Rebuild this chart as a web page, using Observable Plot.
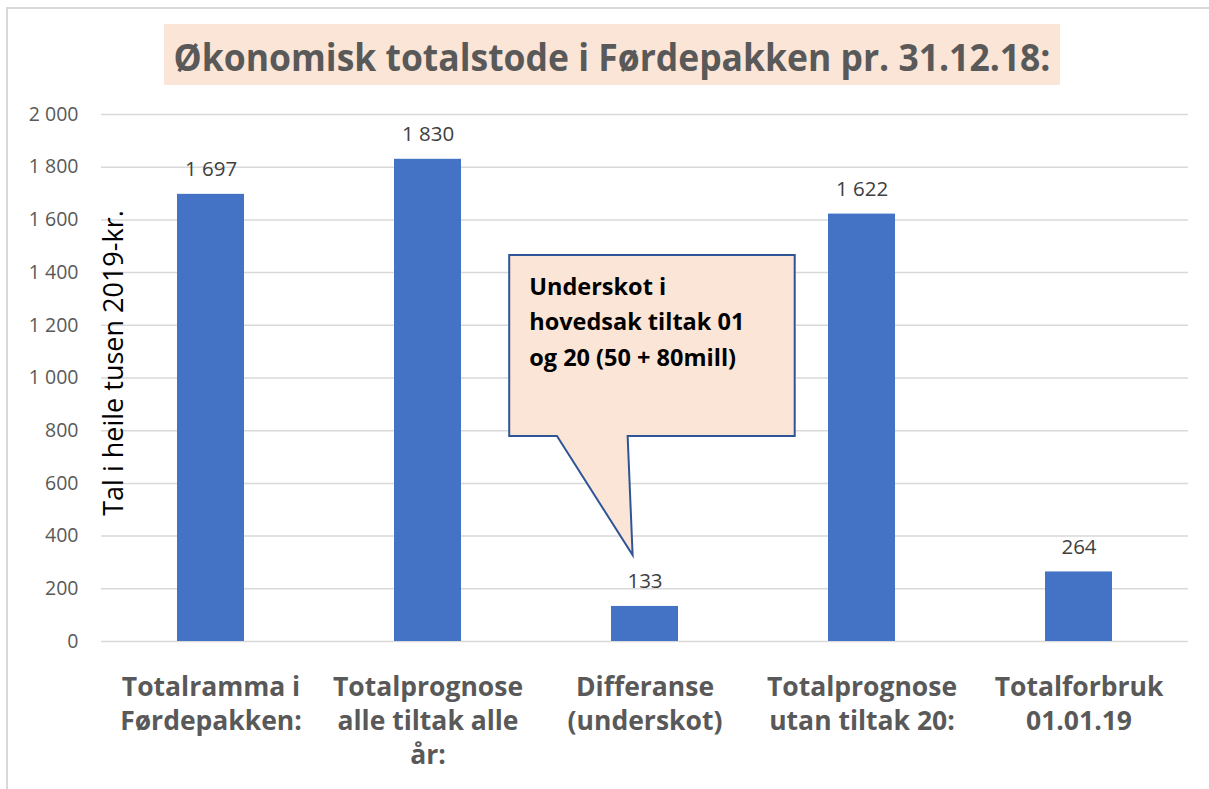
<!DOCTYPE html>
<html>
<head>
<meta charset="utf-8">
<script src="https://cdn.jsdelivr.net/npm/d3@7"></script>
<script src="https://cdn.jsdelivr.net/npm/@observablehq/plot@0.6"></script>
<style>
  html, body { margin: 0; padding: 0; background: #fff; overflow: hidden; }
  #page { position: relative; width: 1209px; height: 789px; }
  #frame { position: absolute; left: 6px; top: 7px; width: 1300px; height: 900px;
           border-left: 2px solid #d9d9d9; border-top: 2px solid #d9d9d9; }
  #titlewrap { position: relative; height: 95px; }
  #titlesvg { position: absolute; left: 0; top: 0; }
  #chart { position: relative; }
</style>
</head>
<body>
<div id="page">
  <div id="frame"></div>
  <div id="titlewrap"></div>
  <div id="chart"></div>
</div>
<script>
(function () {
// ---------- data ----------
const title = "Økonomisk totalstode i Førdepakken pr. 31.12.18:";
const categories = [
  "Totalramma i Førdepakken:",
  "Totalprognose alle tiltak alle år:",
  "Differanse (underskot)",
  "Totalprognose utan tiltak 20:",
  "Totalforbruk 01.01.19"
];
const categoryLines = [
  "Totalramma i\nFørdepakken:",
  "Totalprognose\nalle tiltak alle\når:",
  "Differanse\n(underskot)",
  "Totalprognose\nutan tiltak 20:",
  "Totalforbruk\n01.01.19"
];
const values = [1697, 1830, 133, 1622, 264];
const yTicks = [0, 200, 400, 600, 800, 1000, 1200, 1400, 1600, 1800, 2000];
const yLabel = "Tal i heile tusen 2019-kr.";
const calloutLines = ["Underskot i", "hovedsak tiltak 01", "og 20 (50 + 80mill)"];
const calloutCategory = "Differanse (underskot)";

// ---------- title ----------
const tsvg = d3.select("#titlewrap").append("svg")
  .attr("id", "titlesvg").attr("width", 1209).attr("height", 95);
tsvg.append("rect").attr("x", 164).attr("y", 24).attr("width", 896).attr("height", 61).attr("fill", "#FBE5D6");
tsvg.append("text")
  .attr("x", 612).attr("y", 71)
  .attr("text-anchor", "middle")
  .attr("textLength", 877).attr("lengthAdjust", "spacingAndGlyphs")
  .attr("font-family", "'Open Sans', sans-serif")
  .attr("font-weight", "bold").attr("font-size", 38)
  .attr("fill", "#595959")
  .text(title);

// ---------- chart ----------
const fmt = d => d3.format(",")(d).replace(/,/g, " ");
const data = categories.map((c, i) => ({category: c, value: values[i]}));

const plot = Plot.plot({
  width: 1209,
  height: 694,
  marginTop: 19,
  marginBottom: 148,
  marginLeft: 101,
  marginRight: 21,
  style: {fontFamily: "'Open Sans', sans-serif", background: "transparent", overflow: "visible"},
  x: {domain: categories, paddingInner: 0.69, paddingOuter: 0.345, align: 0.5},
  y: {domain: [0, 2000]},
  marks: [
    Plot.gridY(yTicks, {stroke: "#d9d9d9", strokeOpacity: 1, strokeWidth: 1.5}),
    Plot.axisY(yTicks, {tickSize: 0, tickPadding: 23, tickFormat: fmt, fontSize: 19.5, fill: "#595959", label: null}),
    Plot.axisX({
      tickSize: 0, tickPadding: 30,
      tickFormat: d => categoryLines[categories.indexOf(d)],
      fontSize: 26.5, fontWeight: "bold", fill: "#595959", lineHeight: 1.29, label: null
    }),
    Plot.barY(data, {x: "category", y: "value", fill: "#4472C4"}),
    Plot.text(data, {x: "category", y: "value", text: d => fmt(d.value), lineAnchor: "bottom", dy: -18, fontSize: 20.5, fill: "#404040"}),
    Plot.text([yLabel], {frameAnchor: "left", text: d => d, rotate: -90, textAnchor: "middle", lineAnchor: "bottom", dx: 21, dy: -15, fontSize: 27, fill: "#000"})
  ]
});
document.getElementById("chart").appendChild(plot);

// ---------- callout (positioned through the plot's scales) ----------
const xs = plot.scale("x"), ys = plot.scale("y");
const bw = xs.bandwidth;
const step = bw / (1 - 0.69);
const cx = xs.apply(calloutCategory) + bw / 2;
const boxTop = ys.apply(1465), boxBottom = ys.apply(778), tipY = ys.apply(326);
const boxLeft = cx - 0.626 * step, boxRight = cx + 0.695 * step;
const base1 = cx - 0.405 * step, base2 = cx - 0.078 * step, tipX = cx - 0.055 * step;
const g = d3.select(plot).append("g");
g.append("path")
  .attr("d", `M${boxLeft},${boxTop}H${boxRight}V${boxBottom}H${base2}L${tipX},${tipY}L${base1},${boxBottom}H${boxLeft}Z`)
  .attr("fill", "#FBE5D6").attr("stroke", "#2F5597").attr("stroke-width", 2)
  .attr("stroke-linejoin", "miter");
g.append("text")
  .attr("text-anchor", "start")
  .attr("font-family", "'Open Sans', sans-serif")
  .attr("font-weight", "bold").attr("font-size", 23.5).attr("fill", "#000")
  .selectAll("tspan").data(calloutLines).join("tspan")
  .attr("x", boxLeft + 20).attr("y", (d, i) => boxTop + 40 + i * 35.5)
  .text(d => d);
})();
</script>
</body>
</html>
